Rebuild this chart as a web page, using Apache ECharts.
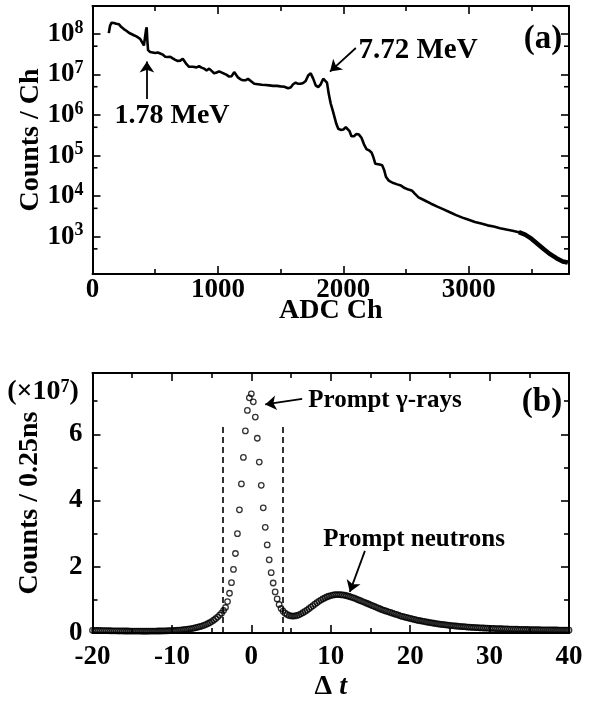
<!DOCTYPE html>
<html>
<head>
<meta charset="utf-8">
<script src="https://cdn.jsdelivr.net/npm/echarts@6/dist/echarts.min.js"></script>
<style>
html,body{margin:0;padding:0;background:#fff;}
#chart{width:590px;height:702px;}
</style>
</head>
<body>
<div id="chart"></div>
<script>
// ---------- Panel (a): spectrum ----------
const spectrumCh = [
130,140,152,170,190,210,230,250,270,290,
310,330,350,365,380,395,410,420,427,432,
437,443,460,480,500,520,540,560,580,600,
620,640,660,680,700,720,735,750,770,800,
830,850,870,890,910,930,950,970,990,1010,
1025,1045,1070,1090,1110,1130,1145,1160,1180,1200,
1220,1240,1255,1270,1290,1320,1350,1380,1410,1440,
1470,1500,1530,1560,1580,1600,1620,1640,1660,1680,
1700,1720,1740,1760,1780,1800,1820,1840,1855,1870,
1885,1900,1915,1930,1945,1960,1980,2000,2020,2035,
2050,2065,2085,2105,2125,2145,2165,2185,2205,2225,
2240,2255,2270,2290,2310,2325,2340,2360,2380,2400,
2430,2460,2490,2520,2550,2570,2600,2650,2700,2750,
2800,2850,2900,2950,3000,3050,3100,3150,3200,3250,
3300,3350,3400,3450,3500,3550,3600,3650,3700,3750,
3790];
const spectrumCounts = [
1.05e8,1.6e8,1.9e8,1.86e8,1.78e8,1.74e8,1.48e8,1.32e8,1.2e8,1.07e8,
1.0e8,9.3e7,8.7e7,8.9e7,7.6e7,6.3e7,5.2e7,5.6e7,1.26e8,1.45e8,
7.1e7,4.0e7,3.6e7,3.5e7,3.4e7,3.5e7,3.3e7,3.1e7,2.75e7,2.7e7,
2.75e7,2.5e7,2.3e7,2.15e7,2.2e7,2.45e7,2.35e7,1.8e7,1.55e7,1.55e7,
1.5e7,1.6e7,1.48e7,1.4e7,1.26e7,1.4e7,1.23e7,1.07e7,1.12e7,1.2e7,
1.1e7,1.07e7,9.8e6,8.9e6,9.1e6,1.15e7,1.23e7,8.5e6,7.6e6,7.2e6,
7.2e6,7.8e6,7.9e6,6.6e6,5.9e6,5.75e6,5.6e6,5.5e6,5.4e6,5.25e6,
5.25e6,5.1e6,5.0e6,4.6e6,4.8e6,5.75e6,6.3e6,5.9e6,5.9e6,6.2e6,
6.9e6,9.5e6,1.07e7,7.9e6,5.4e6,4.9e6,5.75e6,7.9e6,8.5e6,6.3e6,
3.2e6,1.9e6,1.32e6,8.9e5,6.0e5,4.6e5,4.3e5,4.4e5,5.0e5,5.0e5,
4.0e5,3.0e5,3.0e5,3.4e5,3.3e5,2.75e5,1.9e5,1.45e5,1.35e5,1.2e5,
9.1e4,6.3e4,5.9e4,6.0e4,5.75e4,4.5e4,3.0e4,2.45e4,2.24e4,2.1e4,
1.95e4,1.82e4,1.58e4,1.45e4,1.35e4,1.15e4,9.3e3,7.8e3,6.5e3,5.5e3,
4.7e3,4.0e3,3.4e3,2.95e3,2.6e3,2.3e3,2.1e3,1.9e3,1.78e3,1.62e3,
1.5e3,1.4e3,1.29e3,1.12e3,8.9e2,6.6e2,4.9e2,3.7e2,2.95e2,2.45e2,
2.3e2];
const noisyFromCh = 3400;
const adcMin = 0, adcMax = 3800, adcInterval = 1000;
const countsMin = 120, countsMax = 4.9e8;
const logMinorTicks = [5e2, 5e3, 5e4, 5e5, 5e6, 5e7];
const arrow178 = [[434, 2.5e6], [434, 2.1e7]];
const arrow772 = [[2100, 4.5e7], [1894, 1.18e7]];

// ---------- Panel (b): time spectrum (x1e7 counts / 0.25 ns) ----------
const tofTime = [
-20,-19.75,-19.5,-19.25, -19,-18.75,-18.5,-18.25, -18,-17.75,-17.5,-17.25,
-17,-16.75,-16.5,-16.25, -16,-15.75,-15.5,-15.25, -15,-14.75,-14.5,-14.25,
-14,-13.75,-13.5,-13.25, -13,-12.75,-12.5,-12.25, -12,-11.75,-11.5,-11.25,
-11,-10.75,-10.5,-10.25, -10,-9.75,-9.5,-9.25, -9,-8.75,-8.5,-8.25,
-8,-7.75,-7.5,-7.25, -7,-6.75,-6.5,-6.25, -6,-5.75,-5.5,-5.25,
-5,-4.75,-4.5,-4.25, -4,-3.75,-3.5,-3.25, -3,-2.75,-2.5,-2.25,
-2,-1.75,-1.5,-1.25, -1,-0.75,-0.5,-0.25, 0,0.25,0.5,0.75,
1,1.25,1.5,1.75, 2,2.25,2.5,2.75, 3,3.25,3.5,3.75,
4,4.25,4.5,4.75, 5,5.25,5.5,5.75, 6,6.25,6.5,6.75,
7,7.25,7.5,7.75, 8,8.25,8.5,8.75, 9,9.25,9.5,9.75,
10,10.25,10.5,10.75, 11,11.25,11.5,11.75, 12,12.25,12.5,12.75,
13,13.25,13.5,13.75, 14,14.25,14.5,14.75, 15,15.25,15.5,15.75,
16,16.25,16.5,16.75, 17,17.25,17.5,17.75, 18,18.25,18.5,18.75,
19,19.25,19.5,19.75, 20,20.25,20.5,20.75, 21,21.25,21.5,21.75,
22,22.25,22.5,22.75, 23,23.25,23.5,23.75, 24,24.25,24.5,24.75,
25,25.25,25.5,25.75, 26,26.25,26.5,26.75, 27,27.25,27.5,27.75,
28,28.25,28.5,28.75, 29,29.25,29.5,29.75, 30,30.25,30.5,30.75,
31,31.25,31.5,31.75, 32,32.25,32.5,32.75, 33,33.25,33.5,33.75,
34,34.25,34.5,34.75, 35,35.25,35.5,35.75, 36,36.25,36.5,36.75,
37,37.25,37.5,37.75, 38,38.25,38.5,38.75, 39,39.25,39.5,39.75,
40];
const tofCounts = [
0.080,0.080,0.078,0.077, 0.075,0.074,0.072,0.071, 0.070,0.068,0.067,0.066,
0.065,0.064,0.063,0.062, 0.061,0.060,0.060,0.059, 0.058,0.058,0.057,0.057,
0.057,0.056,0.056,0.056, 0.056,0.057,0.057,0.058, 0.059,0.060,0.061,0.062,
0.064,0.066,0.068,0.070, 0.073,0.076,0.080,0.084, 0.089,0.095,0.100,0.108,
0.116,0.125,0.135,0.147, 0.160,0.175,0.190,0.210, 0.230,0.255,0.280,0.310,
0.345,0.385,0.430,0.480, 0.540,0.600,0.680,0.770, 0.950,1.200,1.520,1.920,
2.400,3.000,3.720,4.500, 5.300,6.100,6.720,7.100, 7.220,6.980,6.520,5.880,
5.160,4.460,3.780,3.190, 2.660,2.210,1.820,1.510, 1.240,1.030,0.860,0.740,
0.660,0.600,0.560,0.530, 0.515,0.510,0.515,0.530, 0.550,0.580,0.615,0.650,
0.690,0.735,0.780,0.825, 0.870,0.915,0.955,0.995, 1.030,1.060,1.090,1.110,
1.130,1.145,1.155,1.160, 1.160,1.155,1.150,1.140, 1.125,1.110,1.090,1.070,
1.050,1.025,1.000,0.975, 0.950,0.925,0.900,0.875, 0.850,0.825,0.800,0.775,
0.750,0.725,0.700,0.680, 0.660,0.640,0.620,0.600, 0.580,0.560,0.540,0.520,
0.500,0.485,0.470,0.455, 0.440,0.425,0.410,0.395, 0.380,0.370,0.360,0.350,
0.335,0.325,0.315,0.305, 0.295,0.285,0.275,0.267, 0.260,0.252,0.245,0.238,
0.230,0.224,0.218,0.212, 0.206,0.200,0.195,0.190, 0.185,0.180,0.176,0.172,
0.168,0.164,0.160,0.157, 0.154,0.151,0.148,0.145, 0.142,0.140,0.137,0.135,
0.132,0.130,0.128,0.126, 0.124,0.122,0.120,0.118, 0.116,0.114,0.113,0.111,
0.110,0.108,0.107,0.105, 0.104,0.103,0.101,0.100, 0.099,0.098,0.097,0.096,
0.095,0.094,0.093,0.092, 0.091,0.090,0.090,0.089, 0.088,0.087,0.087,0.086,
0.085];
const tMin = -20, tMax = 40, tInterval = 10;
const yBMin = 0, yBMax = 7.85, yBInterval = 2;
const cutLines = [-3.6, 4.0];
const cutTop = 6.3;
const arrowGamma = [[6.4, 7.07], [1.75, 6.9]];
const arrowNeutron = [[14.3, 2.48], [12.4, 1.24]];

// ---------- chart ----------
const FONT = '"Liberation Serif", "Times New Roman", serif';
const chart = echarts.init(document.getElementById('chart'));

function frameAxis(base) {
  return Object.assign({
    nameMoveOverlap: false,
    axisLine: {show: true, onZero: false, lineStyle: {color: '#000', width: 2}},
    axisTick: {show: true, inside: true, length: 8, lineStyle: {color: '#000', width: 1.6}},
    minorTick: {show: true, splitNumber: 2, length: 5, lineStyle: {color: '#000', width: 1.6}},
    splitLine: {show: false},
    minorSplitLine: {show: false}
  }, base);
}
const labelStyle = {color: '#000', fontSize: 27, fontWeight: 'bold', fontFamily: FONT};
const nameStyle = {color: '#000', fontSize: 28, fontWeight: 'bold', fontFamily: FONT};

function logLabel(v) {
  const e = Math.log10(v);
  if (Math.abs(e - Math.round(e)) < 1e-6) return '{b|10}{s|' + Math.round(e) + '}';
  return '';
}

const option = {
  animation: false,
  textStyle: {fontFamily: FONT},
  grid: [
    {left: 92.5, right: 21, top: 6, height: 268},
    {left: 92.5, right: 21, top: 373, height: 266}
  ],
  xAxis: [
    frameAxis({gridIndex: 0, type: 'value', position: 'bottom', min: adcMin, max: adcMax, interval: adcInterval,
      axisLabel: Object.assign({margin: 3, showMaxLabel: false, formatter: v => (v % 1000 === 0 ? String(v) : '')}, labelStyle),
      name: 'ADC Ch', nameLocation: 'middle', nameGap: 23, nameTextStyle: nameStyle}),
    frameAxis({gridIndex: 0, type: 'value', position: 'top', min: adcMin, max: adcMax, interval: adcInterval,
      axisLabel: {show: false}}),
    frameAxis({gridIndex: 1, type: 'value', position: 'bottom', min: tMin, max: tMax, interval: tInterval,
      axisLabel: Object.assign({margin: 11}, labelStyle),
      name: '{d|Δ} {t|t}', nameLocation: 'middle', nameGap: 40,
      nameTextStyle: Object.assign({rich: {
        d: {fontSize: 28, fontWeight: 'bold', fontFamily: FONT, color: '#000'},
        t: {fontSize: 28, fontWeight: 'bold', fontStyle: 'italic', fontFamily: FONT, color: '#000'}
      }}, nameStyle)}),
    frameAxis({gridIndex: 1, type: 'value', position: 'top', min: tMin, max: tMax, interval: tInterval,
      axisLabel: {show: false}})
  ],
  yAxis: [
    frameAxis({gridIndex: 0, type: 'log', position: 'left', min: countsMin, max: countsMax, logBase: 10, splitNumber: 5,
      minorTick: {show: false},
      axisLabel: Object.assign({margin: 9, formatter: logLabel, showMinLabel: true, showMaxLabel: true, rich: {
        b: {fontSize: 27, fontWeight: 'bold', fontFamily: FONT, color: '#000', lineHeight: 30},
        s: {fontSize: 18, fontWeight: 'bold', fontFamily: FONT, color: '#000', verticalAlign: 'top', lineHeight: 18}
      }}, labelStyle),
      name: 'Counts / Ch', nameLocation: 'middle', nameGap: 48, nameTextStyle: nameStyle}),
    frameAxis({gridIndex: 0, type: 'log', position: 'right', min: countsMin, max: countsMax, logBase: 10, splitNumber: 5,
      minorTick: {show: false}, axisLabel: {show: false}}),
    frameAxis({gridIndex: 1, type: 'value', position: 'left', min: yBMin, max: yBMax, interval: yBInterval,
      axisLabel: Object.assign({margin: 10, showMaxLabel: false, verticalAlignMinLabel: 'middle',
        formatter: v => (v % 2 === 0 ? String(v) : '')}, labelStyle),
      name: 'Counts / 0.25ns', nameLocation: 'middle', nameGap: 49, nameTextStyle: nameStyle}),
    frameAxis({gridIndex: 1, type: 'value', position: 'right', min: yBMin, max: yBMax, interval: yBInterval,
      axisLabel: {show: false}})
  ],
  series: [
    {
      type: 'line', xAxisIndex: 0, yAxisIndex: 0,
      data: spectrumCh.map((c, i) => [c, spectrumCounts[i]]),
      showSymbol: false, symbol: 'none',
      lineStyle: {color: '#000', width: 2.6},
      silent: true,
      markLine: {
        silent: true, symbol: ['none', 'arrow'], symbolSize: 11,
        label: {show: false},
        lineStyle: {color: '#000', width: 1.8, type: 'solid'},
        data: [
          [{coord: arrow178[0]}, {coord: arrow178[1]}],
          [{coord: arrow772[0]}, {coord: arrow772[1]}]
        ]
      }
    },
    {
      type: 'line', xAxisIndex: 0, yAxisIndex: 0, silent: true,
      data: spectrumCh.map((c, i) => [c, spectrumCounts[i]]).filter(p => p[0] >= noisyFromCh),
      showSymbol: false, symbol: 'none',
      lineStyle: {color: '#000', width: 4.5}
    },
    {
      type: 'custom', xAxisIndex: 0, yAxisIndex: 0, silent: true,
      data: logMinorTicks.map(v => [adcMin, v]),
      renderItem: function (params, api) {
        const v = api.value(1);
        const l = api.coord([adcMin, v]);
        const r = api.coord([adcMax, v]);
        return {type: 'group', children: [
          {type: 'line', shape: {x1: l[0], y1: l[1], x2: l[0] + 5, y2: l[1]}, style: {stroke: '#000', lineWidth: 1.6}},
          {type: 'line', shape: {x1: r[0] - 5, y1: r[1], x2: r[0], y2: r[1]}, style: {stroke: '#000', lineWidth: 1.6}}
        ]};
      }
    },
    {
      type: 'scatter', xAxisIndex: 2, yAxisIndex: 2,
      data: tofTime.map((t, i) => [t, tofCounts[i]]),
      symbol: 'circle', symbolSize: 5.5,
      itemStyle: {color: 'rgba(255,255,255,0)', borderColor: '#000', borderWidth: 1.3},
      silent: true,
      markLine: {
        silent: true, symbol: ['none', 'none'],
        label: {show: false},
        lineStyle: {color: '#000', width: 1.6, type: [6, 4]},
        data: cutLines.map(c => [{coord: [c, yBMin]}, {coord: [c, cutTop]}])
      }
    },
    {
      type: 'line', xAxisIndex: 2, yAxisIndex: 2, data: [], silent: true,
      markLine: {
        silent: true, symbol: ['none', 'arrow'], symbolSize: 11,
        label: {show: false},
        lineStyle: {color: '#000', width: 1.8, type: 'solid'},
        data: [
          [{coord: arrowGamma[0]}, {coord: arrowGamma[1]}],
          [{coord: arrowNeutron[0]}, {coord: arrowNeutron[1]}]
        ]
      }
    }
  ],
  graphic: [
    {type: 'text', x: 172, y: 116, style: {text: '1.78 MeV', font: 'bold 28px ' + FONT, fill: '#000', align: 'center', verticalAlign: 'middle'}},
    {type: 'text', x: 418, y: 51, style: {text: '7.72 MeV', font: 'bold 29px ' + FONT, fill: '#000', align: 'center', verticalAlign: 'middle'}},
    {type: 'text', x: 543, y: 39, style: {text: '(a)', font: 'bold 33px ' + FONT, fill: '#000', align: 'center', verticalAlign: 'middle'}},
    {type: 'text', x: 43, y: 392, style: {text: '(×10{s|7})', font: 'bold 28px ' + FONT, fill: '#000', align: 'center', verticalAlign: 'middle',
      rich: {s: {font: 'bold 18px ' + FONT, fill: '#000', verticalAlign: 'top', lineHeight: 18}}}},
    {type: 'text', x: 385, y: 401, style: {text: 'Prompt γ-rays', font: 'bold 25px ' + FONT, fill: '#000', align: 'center', verticalAlign: 'middle'}},
    {type: 'text', x: 414, y: 540, style: {text: 'Prompt neutrons', font: 'bold 25px ' + FONT, fill: '#000', align: 'center', verticalAlign: 'middle'}},
    {type: 'text', x: 542, y: 402, style: {text: '(b)', font: 'bold 33px ' + FONT, fill: '#000', align: 'center', verticalAlign: 'middle'}}
  ]
};
chart.setOption(option);
</script>
</body>
</html>
